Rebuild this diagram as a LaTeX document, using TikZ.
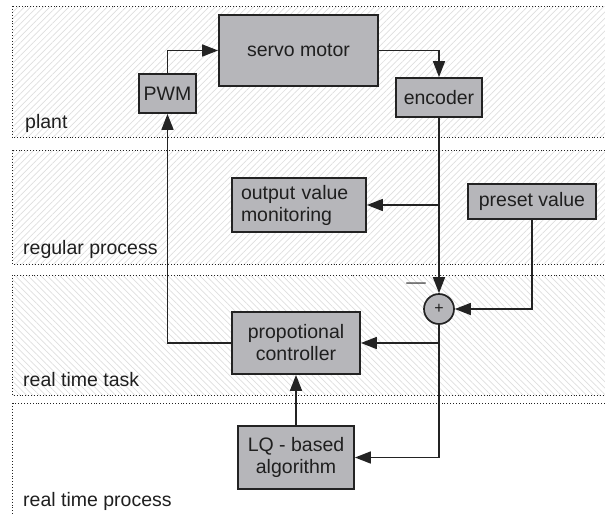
\documentclass[tikz,border=0pt]{standalone}
\usepackage{fontspec}
\setmainfont{Liberation Sans}
\usetikzlibrary{arrows.meta,patterns.meta}
\definecolor{boxgray}{RGB}{182,182,186}
\definecolor{edgegray}{RGB}{35,35,35}
\definecolor{hatchgray}{RGB}{222,222,222}
\tikzset{
  blk/.style={draw=edgegray, line width=1.8pt, fill=boxgray, inner sep=0pt, text=black!88, font=\fontsize{19.5}{22}\selectfont, align=center},
  conn/.style={draw=edgegray, line width=1.7pt, -{Triangle[length=16pt,width=12pt]}},
  band/.style={draw=edgegray, line width=0.9pt, dotted},
  lbl/.style={font=\fontsize{19.5}{22}\selectfont, text=black!88, anchor=base west, inner sep=0pt},
  hatchne/.style={pattern={Lines[angle=45,distance=4.5pt,line width=0.7pt]}, pattern color=hatchgray},
  hatchnw/.style={pattern={Lines[angle=-45,distance=4.5pt,line width=0.7pt]}, pattern color=hatchgray}
}
\begin{document}
\begin{tikzpicture}[x=1pt,y=-1pt]
\useasboundingbox (0,0) rectangle (605,515);
\begin{scope}
\clip (0,0) rectangle (605,515);
\path[hatchne] (12.5,6) rectangle (640,137.5);
\path[hatchne] (12.5,150) rectangle (640,264);
\path[hatchnw] (12.5,275) rectangle (640,395.5);
\draw[band] (12.5,6) rectangle (640,137.5);
\draw[band] (12.5,150) rectangle (640,264);
\draw[band] (12.5,275) rectangle (640,395.5);
\draw[band] (12.5,403) rectangle (640,540);
\end{scope}

\node[lbl] (lplant) at (25,128) {plant};
\node[lbl] (lreg) at (23,254) {regular process};
\node[lbl] (ltask) at (23,386) {real time task};
\node[lbl] (lproc) at (23,506) {real time process};

\node[blk, minimum width=159pt, minimum height=71pt] (servo) at (298.5,50.5) {servo motor};
\node[blk, minimum width=57pt, minimum height=39pt] (pwm) at (167.5,93.5) {PWM};
\node[blk, minimum width=86pt, minimum height=39pt] (enc) at (439,97.5) {encoder};
\node[blk, minimum width=134pt, minimum height=54pt, align=left, text width=116pt] (mon) at (299,205) {output value\\monitoring};
\node[blk, minimum width=128pt, minimum height=35pt] (preset) at (532,201.5) {preset value};
\node[draw=edgegray, line width=1.7pt, fill=boxgray, circle, minimum size=30pt, inner sep=0pt, text=black!88, font=\fontsize{16}{17}\selectfont] (sum) at (439,309) {+};
\node[blk, minimum width=128pt, minimum height=62pt] (ctrl) at (296,343) {propotional\\controller};
\node[blk, minimum width=116pt, minimum height=63pt] (lq) at (296,457.5) {LQ - based\\algorithm};
\node[font=\fontsize{19.5}{22}\selectfont, text=black!75, inner sep=0pt] (minus) at (416,285.5) {—};

\coordinate (b1) at (enc.south |- mon.east);
\coordinate (b2) at (sum.south |- ctrl.east);

\draw[conn] (pwm.north) |- (servo.west);
\draw[conn] (servo.east) -| (enc.north);
\draw[conn] (enc.south) -- (sum.north);
\draw[conn] (b1) -- (mon.east);
\draw[conn] (preset.south) |- (sum.east);
\draw[conn] (sum.south) |- (lq.east);
\draw[conn] (b2) -- (ctrl.east);
\draw[conn] (ctrl.west) -| (pwm.south);
\draw[conn] (lq.north) -- (ctrl.south);
\end{tikzpicture}
\end{document}
